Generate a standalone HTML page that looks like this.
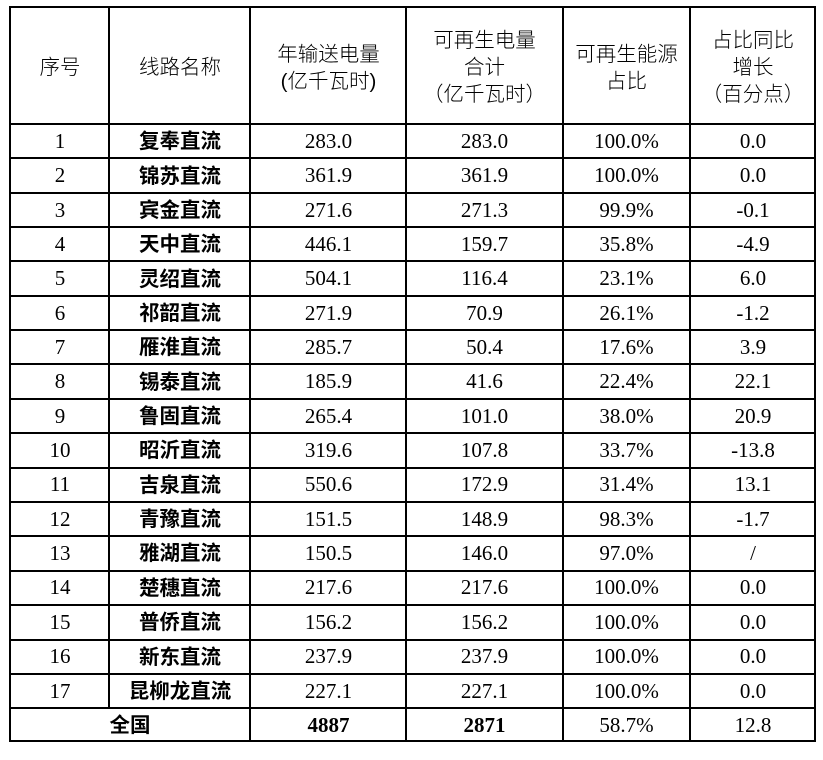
<!DOCTYPE html>
<html><head><meta charset="utf-8">
<style>
html,body{margin:0;padding:0;background:#fff;}
body{width:823px;height:760px;position:relative;overflow:hidden;}
.h{position:absolute;left:9px;width:807px;height:2px;background:#000;}
.v{position:absolute;width:2px;background:#000;}
.r{position:absolute;left:0;width:823px;}
.r div{position:absolute;top:0;height:100%;display:flex;align-items:center;justify-content:center;text-align:center;color:#000;font-family:"Liberation Serif","Noto Serif CJK SC",serif;font-size:21px;}
.c1{left:11px;width:98px;}
.c2{left:110px;width:140px;}
.c3{left:251px;width:155px;}
.c4{left:407px;width:155px;}
.c5{left:563px;width:127px;}
.c6{left:691px;width:124px;}
.r div.n{font-family:"Liberation Sans","Noto Sans CJK SC",sans-serif;font-weight:bold;font-size:20.5px;line-height:1;}
.r div.n span{position:relative;top:1.5px;}
.hd div{font-family:"Liberation Sans","Noto Sans CJK SC",sans-serif;font-size:20.5px;line-height:27px;font-weight:300;}
</style></head><body>
<!-- horizontal lines -->
<div class="h" style="top:6px"></div>
<div class="h" style="top:123px"></div>
<div class="h" style="top:157px"></div>
<div class="h" style="top:192px"></div>
<div class="h" style="top:226px"></div>
<div class="h" style="top:260px"></div>
<div class="h" style="top:295px"></div>
<div class="h" style="top:329px"></div>
<div class="h" style="top:363px"></div>
<div class="h" style="top:398px"></div>
<div class="h" style="top:432px"></div>
<div class="h" style="top:466.5px"></div>
<div class="h" style="top:501px"></div>
<div class="h" style="top:535px"></div>
<div class="h" style="top:569.5px"></div>
<div class="h" style="top:604px"></div>
<div class="h" style="top:638.5px"></div>
<div class="h" style="top:673px"></div>
<div class="h" style="top:707px"></div>
<div class="h" style="top:740px"></div>
<!-- vertical lines -->
<div class="v" style="left:9px;top:6px;height:736px"></div>
<div class="v" style="left:108px;top:6px;height:703px"></div>
<div class="v" style="left:249px;top:6px;height:736px"></div>
<div class="v" style="left:405px;top:6px;height:736px"></div>
<div class="v" style="left:561.5px;top:6px;height:736px"></div>
<div class="v" style="left:689px;top:6px;height:736px"></div>
<div class="v" style="left:814px;top:6px;height:736px"></div>

<!-- header -->
<div class="r hd" style="top:10px;height:115px">
<div class="c1">序号</div>
<div class="c2">线路名称</div>
<div class="c3">年输送电量<br>(亿千瓦时)</div>
<div class="c4">可再生电量<br>合计<br>（亿千瓦时）</div>
<div class="c5">可再生能源<br>占比</div>
<div class="c6">占比同比<br>增长<br>（百分点）</div>
</div>

<div class="r" style="top:124px;height:34px"><div class="c1">1</div><div class="c2 n"><span>复奉直流</span></div><div class="c3">283.0</div><div class="c4">283.0</div><div class="c5">100.0%</div><div class="c6">0.0</div></div>
<div class="r" style="top:158.5px;height:34px"><div class="c1">2</div><div class="c2 n"><span>锦苏直流</span></div><div class="c3">361.9</div><div class="c4">361.9</div><div class="c5">100.0%</div><div class="c6">0.0</div></div>
<div class="r" style="top:193px;height:34px"><div class="c1">3</div><div class="c2 n"><span>宾金直流</span></div><div class="c3">271.6</div><div class="c4">271.3</div><div class="c5">99.9%</div><div class="c6">-0.1</div></div>
<div class="r" style="top:227px;height:34px"><div class="c1">4</div><div class="c2 n"><span>天中直流</span></div><div class="c3">446.1</div><div class="c4">159.7</div><div class="c5">35.8%</div><div class="c6">-4.9</div></div>
<div class="r" style="top:261.5px;height:34px"><div class="c1">5</div><div class="c2 n"><span>灵绍直流</span></div><div class="c3">504.1</div><div class="c4">116.4</div><div class="c5">23.1%</div><div class="c6">6.0</div></div>
<div class="r" style="top:296px;height:34px"><div class="c1">6</div><div class="c2 n"><span>祁韶直流</span></div><div class="c3">271.9</div><div class="c4">70.9</div><div class="c5">26.1%</div><div class="c6">-1.2</div></div>
<div class="r" style="top:330px;height:34px"><div class="c1">7</div><div class="c2 n"><span>雁淮直流</span></div><div class="c3">285.7</div><div class="c4">50.4</div><div class="c5">17.6%</div><div class="c6">3.9</div></div>
<div class="r" style="top:364.5px;height:34px"><div class="c1">8</div><div class="c2 n"><span>锡泰直流</span></div><div class="c3">185.9</div><div class="c4">41.6</div><div class="c5">22.4%</div><div class="c6">22.1</div></div>
<div class="r" style="top:399px;height:34px"><div class="c1">9</div><div class="c2 n"><span>鲁固直流</span></div><div class="c3">265.4</div><div class="c4">101.0</div><div class="c5">38.0%</div><div class="c6">20.9</div></div>
<div class="r" style="top:433px;height:34px"><div class="c1">10</div><div class="c2 n"><span>昭沂直流</span></div><div class="c3">319.6</div><div class="c4">107.8</div><div class="c5">33.7%</div><div class="c6">-13.8</div></div>
<div class="r" style="top:467.5px;height:34px"><div class="c1">11</div><div class="c2 n"><span>吉泉直流</span></div><div class="c3">550.6</div><div class="c4">172.9</div><div class="c5">31.4%</div><div class="c6">13.1</div></div>
<div class="r" style="top:502px;height:34px"><div class="c1">12</div><div class="c2 n"><span>青豫直流</span></div><div class="c3">151.5</div><div class="c4">148.9</div><div class="c5">98.3%</div><div class="c6">-1.7</div></div>
<div class="r" style="top:536px;height:34px"><div class="c1">13</div><div class="c2 n"><span>雅湖直流</span></div><div class="c3">150.5</div><div class="c4">146.0</div><div class="c5">97.0%</div><div class="c6">/</div></div>
<div class="r" style="top:570.5px;height:34px"><div class="c1">14</div><div class="c2 n"><span>楚穗直流</span></div><div class="c3">217.6</div><div class="c4">217.6</div><div class="c5">100.0%</div><div class="c6">0.0</div></div>
<div class="r" style="top:605px;height:34px"><div class="c1">15</div><div class="c2 n"><span>普侨直流</span></div><div class="c3">156.2</div><div class="c4">156.2</div><div class="c5">100.0%</div><div class="c6">0.0</div></div>
<div class="r" style="top:639.5px;height:34px"><div class="c1">16</div><div class="c2 n"><span>新东直流</span></div><div class="c3">237.9</div><div class="c4">237.9</div><div class="c5">100.0%</div><div class="c6">0.0</div></div>
<div class="r" style="top:674px;height:34px"><div class="c1">17</div><div class="c2 n"><span>昆柳龙直流</span></div><div class="c3">227.1</div><div class="c4">227.1</div><div class="c5">100.0%</div><div class="c6">0.0</div></div>
<div class="r" style="top:709px;height:32px"><div class="n" style="left:11px;width:238px;"><span>全国</span></div><div class="c3" style="font-weight:bold">4887</div><div class="c4" style="font-weight:bold">2871</div><div class="c5">58.7%</div><div class="c6">12.8</div></div>
</body></html>
